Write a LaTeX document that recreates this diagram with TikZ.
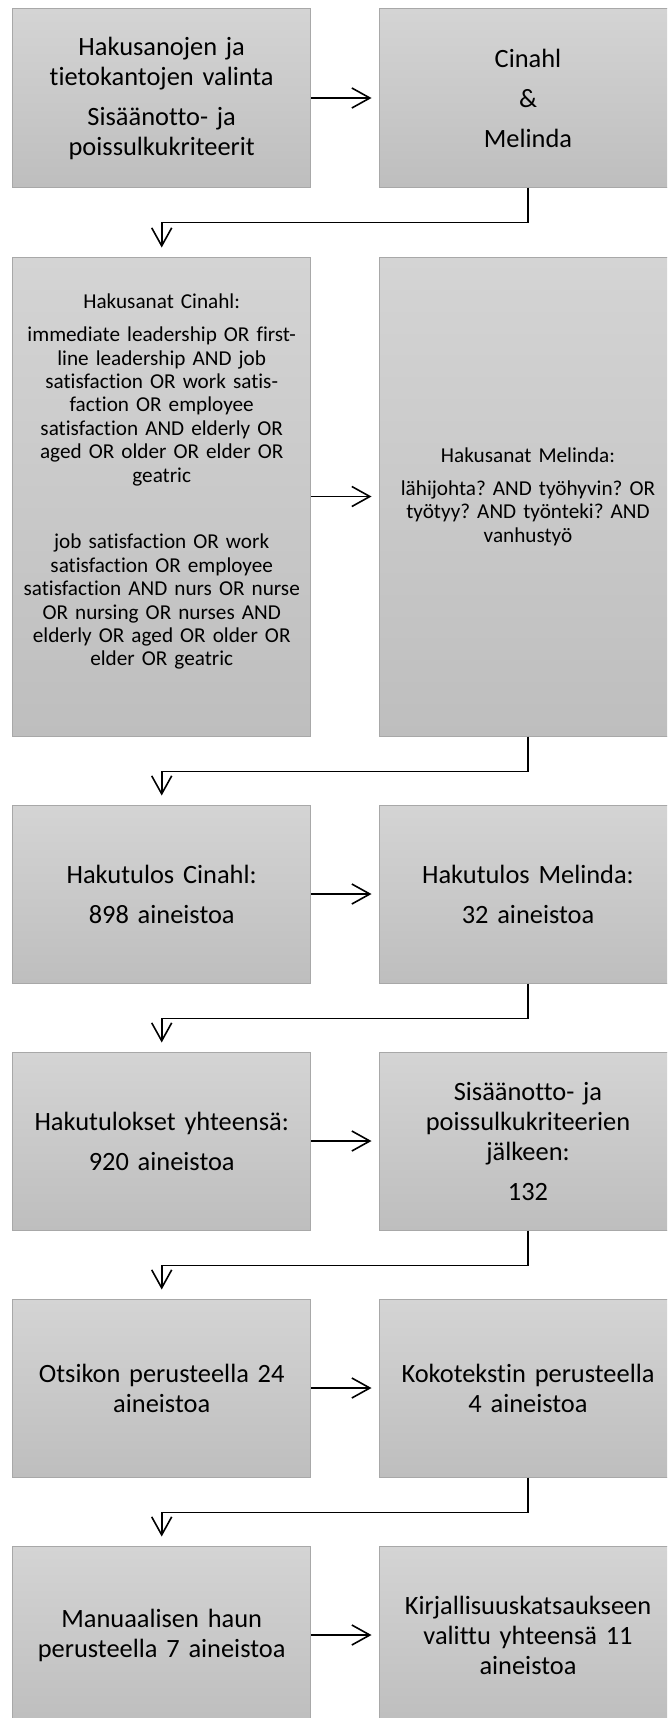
\documentclass[tikz,border=0pt]{standalone}
\usepackage{fontspec}
\setmainfont{Carlito}[Ligatures=NoCommon]
\usepackage{tikz}
\usetikzlibrary{arrows.meta}
\definecolor{boxtop}{RGB}{212,212,212}
\definecolor{boxbot}{RGB}{190,190,190}
\definecolor{boxline}{RGB}{168,168,168}
\newcommand{\pgap}{\\[10pt]}
\frenchspacing

\begin{document}
\begin{tikzpicture}[
        x=1pt, y=-1pt,
        box/.style = {rectangle, draw=boxline, line width=1pt, top color=boxtop, bottom color=boxbot, minimum width=298pt, minimum height=#1, text width=290pt, align=center, inner sep=0pt, font=\fontsize{26.4pt}{30pt}\selectfont},
        box/.default = 178pt,
        smalltext/.style = {font=\fontsize{21.2pt}{23.4pt}\selectfont},
        flow/.style = {-{Straight Barb[length=18pt,width=20pt]}, line width=1.6pt, draw=black},
    ]
    \useasboundingbox (0,0) rectangle (667,1718);
    \clip (0,0) rectangle (667,1718);
    % rivi 1
    \node[box] (valinta) at (161.7,98) {Hakusanojen ja\\ tietokantojen valinta\pgap Sisäänotto- ja\\ poissulkukriteerit};
    \node[box] (kannat) at (528,98) {Cinahl\pgap \&\pgap Melinda};
    % rivi 2
    \node[box=479pt,smalltext] (cinahl) at (161.7,496.5) {Hakusanat Cinahl:\pgap immediate leadership OR first-\\ line leadership AND job\\ satisfaction OR work satis-\\ faction OR employee\\ satisfaction AND elderly OR\\ aged OR older OR elder OR\\ geatric\pgap \mbox{}\pgap job satisfaction OR work\\ satisfaction OR employee\\ satisfaction AND nurs OR nurse\\ OR nursing OR nurses AND\\ elderly OR aged OR older OR\\ elder OR geatric\pgap \mbox{}};
    \node[box=479pt,smalltext] (melinda) at (528,496.5) {Hakusanat Melinda:\pgap lähijohta? AND työhyvin? OR\\ työtyy? AND työnteki? AND\\ vanhustyö};
    % rivi 3
    \node[box] (tulosC) at (161.7,894) {Hakutulos Cinahl:\pgap 898 aineistoa};
    \node[box] (tulosM) at (528,894) {Hakutulos Melinda:\pgap 32 aineistoa};
    % rivi 4
    \node[box] (yhteensa) at (161.7,1141) {Hakutulokset yhteensä:\pgap 920 aineistoa};
    \node[box] (kriteerit) at (528,1141) {Sisäänotto- ja\\ poissulkukriteerien\\ jälkeen:\pgap 132};
    % rivi 5
    \node[box] (otsikko) at (161.7,1388) {Otsikon perusteella 24\\ aineistoa};
    \node[box] (koko) at (528,1388) {Kokotekstin perusteella\\ 4 aineistoa};
    % rivi 6
    \node[box] (manuaali) at (161.7,1635) {Manuaalisen haun\\ perusteella 7 aineistoa};
    \node[box] (valittu) at (528,1635) {Kirjallisuuskatsaukseen\\ valittu yhteensä 11\\ aineistoa};

    % vaakanuolet
    \draw[flow,shorten >=7pt] (valinta) -- (kannat);
    \draw[flow,shorten >=7pt] (cinahl) -- (melinda);
    \draw[flow,shorten >=7pt] (tulosC) -- (tulosM);
    \draw[flow,shorten >=7pt] (yhteensa) -- (kriteerit);
    \draw[flow,shorten >=7pt] (otsikko) -- (koko);
    \draw[flow,shorten >=7pt] (manuaali) -- (valittu);
    % kulmanuolet
    \draw[flow,shorten >=9pt] (kannat.south) -- ++(0,35) -| (cinahl.north);
    \draw[flow,shorten >=9pt] (melinda.south) -- ++(0,35) -| (tulosC.north);
    \draw[flow,shorten >=9pt] (tulosM.south) -- ++(0,35) -| (yhteensa.north);
    \draw[flow,shorten >=9pt] (kriteerit.south) -- ++(0,35) -| (otsikko.north);
    \draw[flow,shorten >=9pt] (koko.south) -- ++(0,35) -| (manuaali.north);
\end{tikzpicture}
\end{document}
